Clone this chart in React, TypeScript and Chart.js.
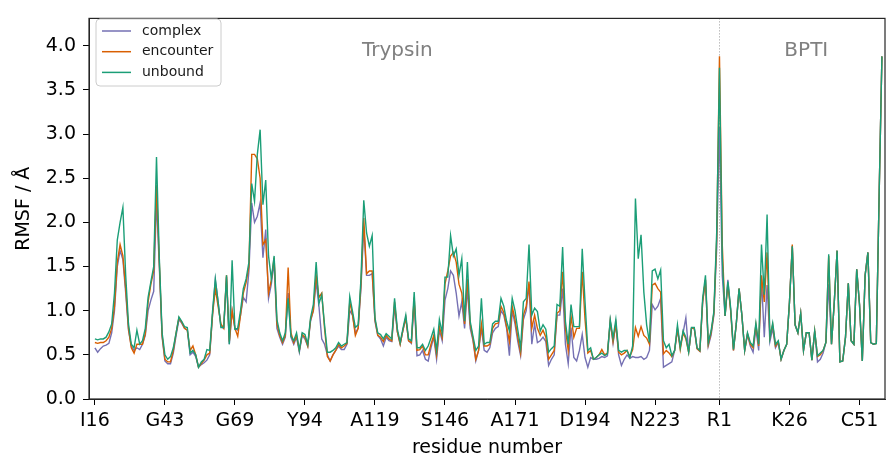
import { useEffect, useRef } from "react";
import { Chart, registerables } from "chart.js";
Chart.register(...registerables);

const tickIndices = [0, 25, 50, 75, 100, 125, 150, 175, 200, 223, 248, 273];
const tickLabels = ["I16", "G43", "G69", "Y94", "A119", "S146", "A171", "D194", "N223", "R1", "K26", "C51"];
const seriesNames = ["complex", "encounter", "unbound"];
const seriesColors = ["#7570b3", "#d95f02", "#1b9e77"];
const regionLabels = ["Trypsin", "BPTI"];
const regionCenters = [108, 254];
const boundaryIndex = 223;

const unbound = [
  0.68, 0.67, 0.68, 0.68, 0.70, 0.76, 0.85, 1.20, 1.80, 2.00,
  2.17, 1.40, 0.85, 0.62, 0.58, 0.78, 0.62, 0.66, 0.80, 1.15,
  1.33, 1.50, 2.74, 1.60, 0.75, 0.50, 0.45, 0.48, 0.58, 0.75,
  0.93, 0.88, 0.82, 0.81, 0.52, 0.55, 0.50, 0.36, 0.42, 0.45,
  0.56, 0.55, 0.99, 1.36, 1.10, 0.81, 0.81, 1.40, 0.62, 1.57,
  0.79, 0.80, 1.00, 1.25, 1.36, 1.55, 2.44, 2.24, 2.77, 3.05,
  2.20, 2.48, 1.62, 1.36, 1.62, 0.90, 0.75, 0.66, 0.75, 1.14,
  0.71, 0.66, 0.75, 0.55, 0.75, 0.73, 0.62, 0.92, 1.07, 1.55,
  1.08, 1.18, 0.84, 0.53, 0.53, 0.55, 0.58, 0.64, 0.60, 0.62,
  0.64, 1.16, 0.99, 0.81, 0.84, 1.36, 2.25, 1.88, 1.73, 1.85,
  0.92, 0.75, 0.73, 0.68, 0.74, 0.71, 0.68, 1.14, 0.79, 0.64,
  0.80, 0.95, 0.68, 0.66, 1.21, 0.58, 0.58, 0.62, 0.55, 0.60,
  0.69, 0.79, 0.55, 0.90, 0.75, 1.38, 1.38, 1.85, 1.62, 1.70,
  1.40, 1.59, 0.88, 1.55, 0.88, 0.71, 0.55, 0.60, 1.14, 0.62,
  0.64, 0.64, 0.85, 0.88, 0.88, 1.14, 1.05, 0.88, 0.77, 1.14,
  1.00, 0.78, 0.58, 1.10, 1.14, 1.75, 0.95, 1.03, 0.99, 0.77,
  0.84, 0.79, 0.53, 0.57, 0.60, 1.07, 1.05, 1.72, 0.88, 0.62,
  1.07, 0.82, 0.82, 0.82, 1.70, 1.10, 0.55, 0.58, 0.45, 0.47,
  0.50, 0.52, 0.49, 0.51, 0.90, 0.69, 0.90, 0.55, 0.53, 0.55,
  0.55, 0.47, 0.60, 2.27, 1.59, 1.86, 1.21, 0.84, 0.64, 1.45,
  1.47, 1.36, 1.46, 0.66, 0.58, 0.62, 0.49, 0.55, 0.84, 0.58,
  0.77, 0.70, 0.53, 0.81, 0.81, 0.58, 0.55, 1.14, 1.40, 0.64,
  0.77, 0.99, 1.88, 3.75, 1.60, 0.94, 1.33, 1.03, 0.56, 0.85,
  1.25, 0.95, 0.55, 0.75, 0.64, 0.60, 0.86, 0.62, 1.75, 1.18,
  2.09, 0.69, 0.86, 0.62, 0.66, 0.45, 0.55, 0.62, 1.10, 1.73,
  0.84, 0.75, 0.97, 0.55, 0.75, 0.75, 0.44, 0.77, 0.49, 0.52,
  0.55, 0.64, 1.64, 0.62, 1.10, 1.68, 0.42, 0.43, 0.70, 1.31,
  0.66, 0.62, 1.47, 1.07, 0.43, 1.40, 1.66, 0.64, 0.62, 0.63,
  2.30, 3.88,
];

const encounter = [
  0.64, 0.63, 0.64, 0.64, 0.66, 0.70, 0.80, 1.05, 1.55, 1.75,
  1.62, 1.25, 0.80, 0.58, 0.52, 0.62, 0.62, 0.62, 0.74, 1.10,
  1.30, 1.45, 2.42, 1.55, 0.72, 0.45, 0.42, 0.42, 0.55, 0.75,
  0.92, 0.87, 0.80, 0.78, 0.55, 0.60, 0.50, 0.36, 0.40, 0.44,
  0.50, 0.52, 0.95, 1.25, 1.05, 0.85, 0.80, 1.40, 0.65, 1.00,
  0.80, 0.71, 0.95, 1.20, 1.32, 1.50, 2.77, 2.77, 2.72, 2.50,
  1.75, 1.80, 1.20, 1.35, 1.60, 0.85, 0.72, 0.64, 0.72, 1.49,
  0.75, 0.64, 0.72, 0.55, 0.73, 0.70, 0.60, 0.90, 1.00, 1.40,
  1.15, 1.20, 0.80, 0.48, 0.43, 0.50, 0.55, 0.62, 0.58, 0.60,
  0.63, 1.10, 0.95, 0.72, 0.80, 1.30, 2.05, 1.42, 1.45, 1.45,
  0.90, 0.72, 0.70, 0.65, 0.72, 0.68, 0.66, 1.10, 0.76, 0.62,
  0.78, 0.92, 0.66, 0.64, 1.15, 0.55, 0.56, 0.60, 0.50, 0.50,
  0.62, 0.72, 0.50, 0.82, 0.70, 1.30, 1.45, 1.62, 1.66, 1.55,
  1.30, 1.20, 0.85, 1.36, 0.85, 0.68, 0.45, 0.55, 0.85, 0.60,
  0.60, 0.62, 0.80, 0.85, 0.86, 1.05, 0.98, 0.82, 0.65, 1.05,
  0.90, 0.70, 0.52, 0.95, 1.05, 1.33, 0.80, 0.95, 0.80, 0.72,
  0.78, 0.70, 0.45, 0.50, 0.55, 0.97, 1.00, 1.44, 0.80, 0.55,
  0.94, 0.70, 0.80, 0.80, 1.44, 0.90, 0.52, 0.55, 0.45, 0.47,
  0.50, 0.56, 0.50, 0.52, 0.88, 0.65, 0.85, 0.53, 0.50, 0.52,
  0.55, 0.48, 0.56, 0.81, 0.71, 0.82, 0.72, 0.69, 0.62, 1.29,
  1.31, 1.25, 1.21, 0.51, 0.55, 0.52, 0.48, 0.55, 0.80, 0.56,
  0.75, 0.68, 0.53, 0.80, 0.80, 0.57, 0.54, 1.10, 1.35, 0.62,
  0.75, 0.97, 1.80, 3.88, 1.75, 0.94, 1.30, 1.00, 0.55, 0.85,
  1.25, 0.95, 0.55, 0.74, 0.62, 0.58, 0.84, 0.60, 1.40, 1.10,
  1.66, 0.70, 0.84, 0.60, 0.65, 0.45, 0.55, 0.62, 1.10, 1.75,
  0.84, 0.75, 0.97, 0.55, 0.75, 0.75, 0.44, 0.77, 0.48, 0.50,
  0.55, 0.64, 1.62, 0.62, 1.10, 1.68, 0.42, 0.43, 0.70, 1.31,
  0.66, 0.62, 1.47, 1.07, 0.43, 1.40, 1.66, 0.64, 0.62, 0.63,
  2.30, 3.88,
];

const complex = [
  0.58, 0.53, 0.57, 0.60, 0.61, 0.63, 0.75, 1.00, 1.50, 1.68,
  1.58, 1.20, 0.78, 0.60, 0.55, 0.58, 0.56, 0.62, 0.72, 1.00,
  1.12, 1.22, 2.25, 1.50, 0.70, 0.43, 0.40, 0.40, 0.52, 0.72,
  0.90, 0.86, 0.80, 0.78, 0.50, 0.53, 0.48, 0.36, 0.39, 0.41,
  0.44, 0.50, 0.95, 1.35, 1.10, 0.82, 0.80, 1.38, 0.62, 1.00,
  0.80, 0.78, 0.95, 1.15, 1.10, 1.45, 2.22, 2.00, 2.07, 2.22,
  1.60, 1.92, 1.14, 1.30, 1.55, 0.80, 0.70, 0.62, 0.70, 1.20,
  0.70, 0.62, 0.70, 0.53, 0.72, 0.68, 0.60, 0.88, 1.00, 1.33,
  1.05, 0.68, 0.62, 0.50, 0.43, 0.50, 0.55, 0.60, 0.56, 0.56,
  0.62, 1.00, 0.95, 0.75, 0.80, 1.25, 1.95, 1.40, 1.40, 1.42,
  0.88, 0.72, 0.68, 0.60, 0.70, 0.66, 0.65, 1.05, 0.76, 0.62,
  0.78, 0.92, 0.66, 0.63, 1.10, 0.49, 0.50, 0.55, 0.45, 0.43,
  0.58, 0.70, 0.45, 0.78, 0.66, 1.12, 1.25, 1.45, 1.40, 1.20,
  0.94, 1.10, 0.80, 1.25, 0.80, 0.66, 0.43, 0.55, 0.80, 0.55,
  0.53, 0.58, 0.75, 0.80, 0.82, 1.00, 0.95, 0.80, 0.49, 1.00,
  0.85, 0.65, 0.49, 0.90, 1.00, 1.30, 0.62, 0.85, 0.64, 0.66,
  0.70, 0.65, 0.38, 0.45, 0.50, 0.95, 0.95, 1.25, 0.62, 0.40,
  0.81, 0.47, 0.43, 0.55, 0.73, 0.47, 0.36, 0.47, 0.45, 0.45,
  0.46, 0.48, 0.47, 0.49, 0.88, 0.63, 0.85, 0.50, 0.38, 0.45,
  0.50, 0.46, 0.48, 0.47, 0.47, 0.48, 0.45, 0.47, 0.55, 1.07,
  1.01, 1.05, 1.14, 0.36, 0.38, 0.40, 0.42, 0.55, 0.78, 0.60,
  0.75, 0.92, 0.53, 0.80, 0.80, 0.57, 0.54, 1.10, 1.35, 0.60,
  0.72, 0.95, 1.70, 3.08, 1.40, 0.94, 1.35, 1.00, 0.55, 0.85,
  1.25, 0.95, 0.55, 0.73, 0.60, 0.53, 0.80, 0.55, 1.36, 0.70,
  1.29, 0.65, 0.80, 0.58, 0.64, 0.45, 0.55, 0.62, 1.10, 1.73,
  0.84, 0.75, 0.97, 0.55, 0.75, 0.75, 0.44, 0.77, 0.42, 0.45,
  0.52, 0.64, 1.30, 0.62, 1.10, 1.68, 0.42, 0.43, 0.70, 1.31,
  0.66, 0.62, 1.47, 1.07, 0.43, 1.40, 1.66, 0.64, 0.62, 0.63,
  2.30, 3.88,
];

const seriesValues = [complex, encounter, unbound];
const FONT = "'DejaVu Sans', sans-serif";

export default function App() {
  const canvasRef = useRef<HTMLCanvasElement | null>(null);

  useEffect(() => {
    document.body.style.margin = "0";
    const canvas = canvasRef.current;
    if (!canvas) return;

    const overlay = {
      id: "overlay",
      beforeDatasetsDraw(chart: any) {
        const { ctx, chartArea } = chart;
        const xs = chart.scales.x;
        const px = Math.round(xs.getPixelForValue(boundaryIndex)) + 0.5;
        ctx.save();
        ctx.strokeStyle = "#9a9a9a";
        ctx.lineWidth = 1;
        ctx.setLineDash([1, 2]);
        ctx.beginPath();
        ctx.moveTo(px, chartArea.top);
        ctx.lineTo(px, chartArea.bottom);
        ctx.stroke();
        ctx.restore();
      },
      afterDraw(chart: any) {
        const { ctx, chartArea } = chart;
        const xs = chart.scales.x;
        ctx.save();
        ctx.strokeStyle = "#262626";
        ctx.lineWidth = 1.2;
        ctx.strokeRect(chartArea.left, chartArea.top, chartArea.right - chartArea.left, chartArea.bottom - chartArea.top);
        ctx.fillStyle = "#808080";
        ctx.font = `20px ${FONT}`;
        ctx.textAlign = "center";
        ctx.textBaseline = "middle";
        regionLabels.forEach((t, k) => {
          ctx.fillText(t, xs.getPixelForValue(regionCenters[k]), 51);
        });
        const lx = 96, ly = 19, lw = 125, lh = 67, r = 4;
        ctx.beginPath();
        ctx.moveTo(lx + r, ly);
        ctx.lineTo(lx + lw - r, ly);
        ctx.quadraticCurveTo(lx + lw, ly, lx + lw, ly + r);
        ctx.lineTo(lx + lw, ly + lh - r);
        ctx.quadraticCurveTo(lx + lw, ly + lh, lx + lw - r, ly + lh);
        ctx.lineTo(lx + r, ly + lh);
        ctx.quadraticCurveTo(lx, ly + lh, lx, ly + lh - r);
        ctx.lineTo(lx, ly + r);
        ctx.quadraticCurveTo(lx, ly, lx + r, ly);
        ctx.closePath();
        ctx.fillStyle = "rgba(255,255,255,0.85)";
        ctx.fill();
        ctx.strokeStyle = "#cccccc";
        ctx.lineWidth = 1;
        ctx.stroke();
        ctx.font = `14px ${FONT}`;
        ctx.textAlign = "left";
        seriesNames.forEach((name, k) => {
          const yy = 31 + k * 20.7;
          ctx.strokeStyle = seriesColors[k];
          ctx.lineWidth = 1.5;
          ctx.beginPath();
          ctx.moveTo(102, yy);
          ctx.lineTo(131, yy);
          ctx.stroke();
          ctx.fillStyle = "#1a1a1a";
          ctx.fillText(name, 142, yy);
        });
        ctx.restore();
      },
    };

    const chart = new Chart(canvas, {
      type: "line",
      data: {
        datasets: seriesNames.map((name, k) => ({
          label: name,
          order: seriesNames.length - 1 - k,
          data: seriesValues[k].map((v, i) => ({ x: i, y: v })),
          borderColor: seriesColors[k],
          backgroundColor: seriesColors[k],
          borderWidth: 1.4,
          pointRadius: 0,
          tension: 0,
          fill: false,
        })),
      },
      options: {
        responsive: false,
        animation: false,
        events: [],
        layout: { padding: { top: 12, right: 2, left: 0, bottom: 0 } },
        plugins: { legend: { display: false }, tooltip: { enabled: false } },
        scales: {
          x: {
            type: "linear",
            min: -2.1,
            max: 282.1,
            afterBuildTicks: (s: any) => {
              s.ticks = tickIndices.map((v) => ({ value: v }));
            },
            afterFit: (s: any) => {
              s.height = 62;
            },
            ticks: {
              autoSkip: false,
              maxRotation: 0,
              minRotation: 0,
              padding: 5,
              color: "#000",
              font: { family: FONT, size: 19 },
              callback: (_v: any, idx: number) => tickLabels[idx],
            },
            grid: { drawOnChartArea: false, drawTicks: true, tickLength: 6, color: "#000", tickWidth: 1 },
            border: { display: true, color: "#262626", width: 1 },
            title: {
              display: true,
              text: "residue number",
              color: "#000",
              font: { family: FONT, size: 19 },
              padding: { top: 0, bottom: 2 },
            },
          },
          y: {
            type: "linear",
            min: 0,
            max: 4.31,
            afterFit: (s: any) => {
              s.width = 89;
            },
            ticks: {
              stepSize: 0.5,
              includeBounds: false,
              padding: 7,
              color: "#000",
              font: { family: FONT, size: 19 },
              callback: (v: any) => Number(v).toFixed(1),
            },
            grid: { drawOnChartArea: false, drawTicks: true, tickLength: 6, color: "#000", tickWidth: 1 },
            border: { display: true, color: "#262626", width: 1 },
            title: {
              display: true,
              text: "RMSF / Å",
              color: "#000",
              font: { family: FONT, size: 19 },
              padding: { top: 13, bottom: 0 },
            },
          },
        },
      },
      plugins: [overlay],
    });

    return () => chart.destroy();
  }, []);

  return (
    <div style={{ width: 887, height: 461, background: "#fff" }}>
      <canvas ref={canvasRef} width={887} height={461} style={{ display: "block" }} />
    </div>
  );
}
